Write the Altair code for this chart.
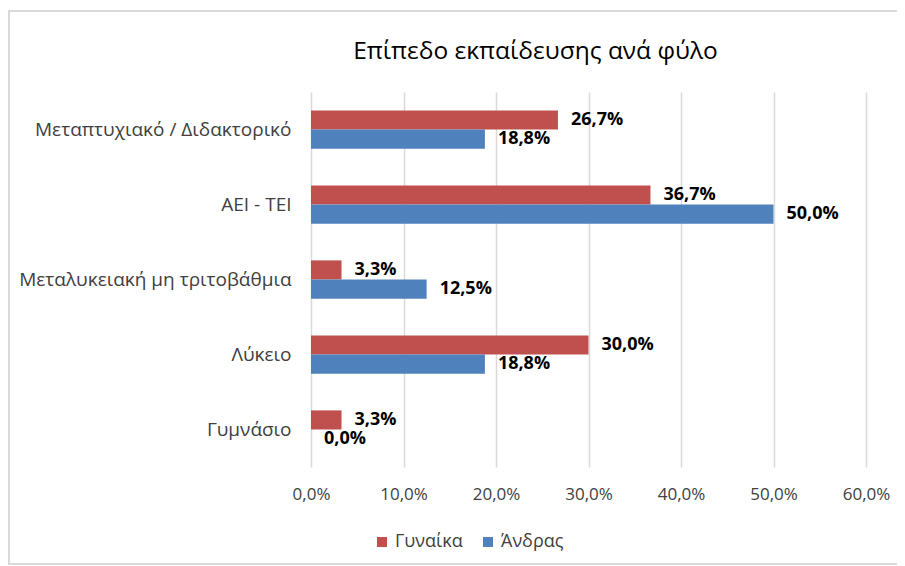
import altair as alt
import pandas as pd

categories = ["Μεταπτυχιακό / Διδακτορικό", "ΑΕΙ - ΤΕΙ", "Μεταλυκειακή μη τριτοβάθμια", "Λύκειο", "Γυμνάσιο"]
series = ["Γυναίκα", "Άνδρας"]
women = [26.7, 36.7, 3.3, 30.0, 3.3]
men = [18.8, 50.0, 12.5, 18.8, 0.0]
colors = ["#C0504D", "#4F81BD"]
x_ticks = [0, 10, 20, 30, 40, 50, 60]

rows = []
for c, w, m in zip(categories, women, men):
    rows.append({"cat": c, "series": series[0], "value": w})
    rows.append({"cat": c, "series": series[1], "value": m})
df = pd.DataFrame(rows)
df["label"] = df["value"].map(lambda v: f"{v:.1f}".replace(".", ",") + "%")

FONT = "Open Sans"

y_enc = alt.Y("cat:N", sort=categories, title=None,
              scale=alt.Scale(paddingInner=0.49, paddingOuter=0.245),
              axis=alt.Axis(ticks=False, domain=False, labelPadding=20, labelFontSize=19,
                            labelColor="#404040", labelFont=FONT, labelLimit=300))
yoff = alt.YOffset("series:N", sort=series, scale=alt.Scale(domain=series, paddingInner=0, paddingOuter=0))
x_enc = alt.X("value:Q", title=None,
              scale=alt.Scale(domain=[0, 60], nice=False),
              axis=alt.Axis(values=x_ticks, ticks=False, domain=False, labelPadding=19,
                            labelFontSize=17, labelColor="#404040", labelFont=FONT,
                            labelFlush=False, gridColor="#d9d9d9", gridWidth=1.5,
                            labelExpr="replace(format(datum.value, '.1f'), '.', ',') + '%'"))

base = alt.Chart(df)

bars = base.mark_bar().encode(
    y=y_enc, yOffset=yoff, x=x_enc,
    color=alt.Color("series:N", scale=alt.Scale(domain=series, range=colors),
                    legend=alt.Legend(title=None, orient="none", legendX=62, legendY=441,
                                      direction="horizontal", symbolType="square", symbolSize=100,
                                      labelFontSize=18, labelFont=FONT, labelColor="#404040",
                                      labelOffset=4, columnPadding=16, symbolStrokeWidth=0))
)

labels = base.mark_text(align="left", baseline="middle", dx=13, fontWeight="bold",
                        fontSize=18, font=FONT, color="#000000").encode(
    y=alt.Y("cat:N", sort=categories), yOffset=alt.YOffset("series:N", sort=series),
    x="value:Q", text="label:N"
)

frame = alt.Chart(pd.DataFrame({"a": [0]})).mark_rect(
    fill=None, stroke="#d9d9d9", strokeWidth=2
).encode(x=alt.value(-302), x2=alt.value(592), y=alt.value(-81), y2=alt.value(472))

chart = alt.layer(frame, bars, labels).properties(
    width=555, height=375,
    title=alt.TitleParams("Επίπεδο εκπαίδευσης ανά φύλο", fontSize=24.5, font=FONT,
                          fontWeight="normal", color="#000000", anchor="middle",
                          frame="group", dx=-53, offset=-54),
    autosize=alt.AutoSizeParams(type="none"),
    padding={"left": 303, "top": 84, "right": 31, "bottom": 100},
).configure_view(stroke=None)

chart.save("out.html", embed_options={"renderer": "svg", "actions": False})
